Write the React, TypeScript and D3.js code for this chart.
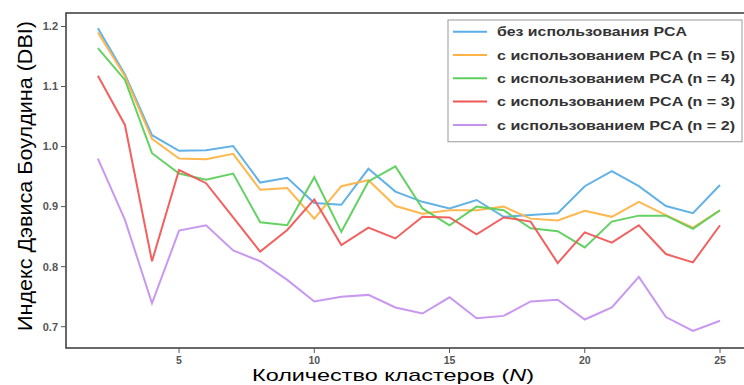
import React from "react";
import * as d3 from "d3";

const clusters = [2,3,4,5,6,7,8,9,10,11,12,13,14,15,16,17,18,19,20,21,22,23,24,25];
const noPca = [1.197,1.12,1.019,0.993,0.994,1.001,0.94,0.948,0.906,0.903,0.963,0.925,0.908,0.897,0.911,0.883,0.886,0.889,0.934,0.959,0.934,0.901,0.889,0.936];
const pca5 = [1.19,1.117,1.013,0.98,0.979,0.988,0.928,0.931,0.88,0.934,0.944,0.901,0.888,0.894,0.894,0.9,0.88,0.877,0.893,0.883,0.908,0.886,0.865,0.894];
const pca4 = [1.164,1.111,0.989,0.955,0.945,0.955,0.874,0.869,0.949,0.858,0.942,0.967,0.897,0.869,0.9,0.894,0.864,0.859,0.832,0.875,0.885,0.885,0.863,0.894];
const pca3 = [1.118,1.036,0.809,0.961,0.939,0.882,0.825,0.861,0.912,0.836,0.865,0.847,0.883,0.882,0.854,0.882,0.875,0.806,0.857,0.84,0.869,0.821,0.807,0.869];
const pca2 = [0.98,0.878,0.739,0.86,0.869,0.827,0.809,0.778,0.742,0.75,0.753,0.732,0.722,0.749,0.714,0.718,0.742,0.745,0.712,0.732,0.783,0.716,0.693,0.71];

const seriesLabels = [
  "без использования PCA",
  "с использованием PCA (n = 5)",
  "с использованием PCA (n = 4)",
  "с использованием PCA (n = 3)",
  "с использованием PCA (n = 2)",
];
const seriesColors = ["#5aaee6", "#ffb347", "#5ccf5c", "#f25757", "#c592f0"];
const seriesValues = [noPca, pca5, pca4, pca3, pca2];

const xTicks = [5, 10, 15, 20, 25];
const yTicks = [0.7, 0.8, 0.9, 1.0, 1.1, 1.2];

export default function App() {
  const W = 744, H = 385;
  const left = 66, top = 13, bottom = 348, right = 746;
  const x = d3.scaleLinear().domain([2, 25]).range([97.9, 720]);
  const y = d3.scaleLinear().domain([0.7, 1.2]).range([326.7, 26.5]);
  const line = d3.line<number>().x((_, i) => x(clusters[i])).y((d) => y(d));

  return (
    <svg width={W} height={H} style={{ position: "absolute", left: 0, top: 0, background: "#fff" }}
      fontFamily="'Liberation Sans', Arial, sans-serif">
      <rect x={0} y={0} width={W} height={H} fill="#fff" />
      {seriesValues.map((vals, k) => (
        <path key={k} d={line(vals) || ""} fill="none" stroke={seriesColors[k]} strokeWidth={2} strokeOpacity={0.95} strokeLinejoin="miter" />
      ))}
      <rect x={left} y={top} width={right - left} height={bottom - top} fill="none" stroke="#444" strokeWidth={1.6} />
      {yTicks.map((t) => (
        <g key={t}>
          <line x1={left - 5} x2={left} y1={y(t)} y2={y(t)} stroke="#555" strokeWidth={1} />
          <text x={left - 8} y={y(t)} dy="0.35em" textAnchor="end" fontSize={11} fill="#555" fontWeight="bold">{t.toFixed(1)}</text>
        </g>
      ))}
      {xTicks.map((t) => (
        <g key={t}>
          <line x1={x(t)} x2={x(t)} y1={bottom} y2={bottom + 5} stroke="#555" strokeWidth={1} />
          <text x={x(t)} y={bottom + 15.5} textAnchor="middle" fontSize={10.5} fill="#555" fontWeight="bold">{t}</text>
        </g>
      ))}
      <g>
        <rect x={448} y={20} width={294} height={121.7} fill="#fff" stroke="#aaa" strokeWidth={1.2} />
        {seriesLabels.map((lab, k) => {
          const ry = 31.7 + k * 23.3;
          return (
            <g key={k}>
              <line x1={453} x2={487} y1={ry} y2={ry} stroke={seriesColors[k]} strokeWidth={2} />
              <text x={497} y={ry} dy="0.36em" fontSize={13} fill="#333" fontWeight="bold"
                textLength={k === 0 ? 190 : 238} lengthAdjust="spacingAndGlyphs">{lab}</text>
            </g>
          );
        })}
      </g>
      <text transform="translate(32,176) rotate(-90)" textAnchor="middle" fontSize={20} fill="#000"
        textLength={310} lengthAdjust="spacingAndGlyphs">Индекс Дэвиса Боулдина (DBI)</text>
      <text x={393} y={380.5} textAnchor="middle" fontSize={17} fill="#000" textLength={282} lengthAdjust="spacingAndGlyphs">
        Количество кластеров (<tspan fontStyle="italic">N</tspan>)
      </text>
    </svg>
  );
}
